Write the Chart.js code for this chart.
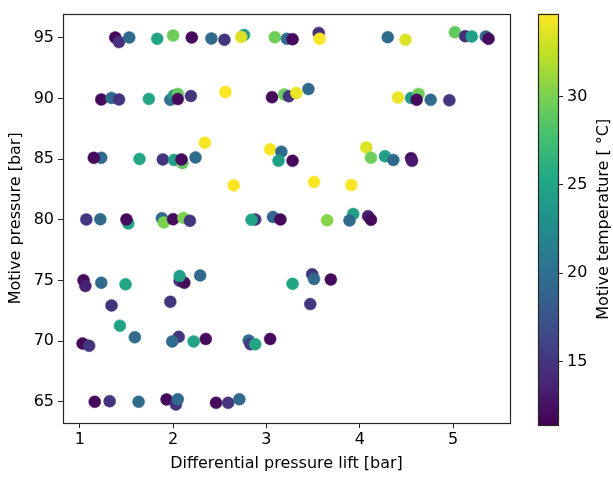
<!DOCTYPE html>
<html>
<head>
<meta charset="utf-8">
<script src="https://cdn.jsdelivr.net/npm/chart.js@4.4.1/dist/chart.umd.min.js"></script>
<style>
  html, body { margin: 0; padding: 0; background: #fff; }
  #main { position: absolute; left: 0; top: 0; }
  #cbar { position: absolute; left: 520px; top: 0; }
</style>
</head>
<body>
<canvas id="main" width="520" height="478"></canvas>
<canvas id="cbar" width="93" height="478"></canvas>
<script>
// Differential pressure lift [bar], one entry per test point
const liftBar = [
  1.38, 1.42, 1.53, 1.83, 2.00, 2.20, 2.41, 2.55, 2.76, 2.73, 3.09, 3.22, 3.28, 3.56, 3.57, 4.30, 4.49, 5.02, 5.13, 5.20, 5.35, 5.38,
  1.23, 1.34, 1.42, 1.74, 1.97, 2.01, 2.05, 2.05, 2.19, 2.56, 3.06, 3.19, 3.24, 3.32, 3.45, 4.41, 4.55, 4.63, 4.61, 4.76, 4.96,
  1.23, 1.15, 1.64, 1.89, 2.01, 2.10, 2.09, 2.24, 2.34, 2.65, 3.04, 3.16, 3.13, 3.28, 3.51, 3.91, 4.07, 4.12, 4.27, 4.36, 4.55, 4.56,
  1.07, 1.22, 1.52, 1.50, 1.88, 1.90, 2.00, 2.11, 2.18, 2.88, 2.84, 3.07, 3.15, 3.65, 3.93, 3.89, 4.09, 4.12,
  1.04, 1.06, 1.23, 1.49, 1.34, 1.97, 2.07, 2.12, 2.07, 2.29, 3.28, 3.49, 3.51, 3.69, 3.47,
  1.03, 1.10, 1.43, 1.59, 2.06, 1.99, 2.22, 2.35, 2.81, 2.83, 2.88, 3.04,
  1.16, 1.32, 1.63, 1.93, 2.03, 2.05, 2.46, 2.59, 2.71
];

// Motive pressure [bar]
const motivePressure = [
  95.03, 94.65, 95.03, 94.92, 95.19, 95.03, 94.95, 94.84, 95.24, 95.08, 95.06, 94.92, 94.89, 95.41, 94.92, 95.06, 94.84, 95.46, 95.14, 95.11, 95.11, 94.92,
  89.92, 90.05, 89.92, 89.97, 89.89, 90.25, 90.38, 89.95, 90.21, 90.54, 90.11, 90.33, 90.19, 90.46, 90.78, 90.08, 90.05, 90.38, 89.89, 89.89, 89.86,
  85.11, 85.11, 85.02, 84.98, 84.94, 84.68, 84.98, 85.14, 86.35, 82.84, 85.81, 85.62, 84.86, 84.86, 83.11, 82.87, 85.97, 85.11, 85.24, 84.94, 85.08, 84.86,
  80.03, 80.05, 79.70, 80.03, 80.13, 79.78, 80.05, 80.16, 79.92, 80.03, 80.00, 80.24, 80.03, 79.97, 80.48, 79.95, 80.30, 80.00,
  75.02, 74.54, 74.81, 74.68, 72.94, 73.24, 74.97, 74.81, 75.37, 75.41, 74.72, 75.51, 75.13, 75.08, 73.05,
  69.81, 69.62, 71.27, 70.32, 70.35, 69.97, 69.97, 70.18, 70.05, 69.75, 69.75, 70.18,
  65.00, 65.05, 65.00, 65.19, 64.78, 65.21, 64.91, 64.91, 65.21
];

// Motive temperature [°C]
const motiveTemp = [
  12, 14.5, 19.5, 25, 29.5, 12, 19.5, 15, 24, 33.5, 29.5, 19.5, 12, 14.5, 34.5, 19.5, 33.5, 29, 14.5, 24.5, 19.5, 12,
  12, 19.5, 15, 25, 20, 24, 29, 12, 15, 34.5, 12, 29.5, 15, 34, 19.5, 34, 24, 29.5, 12, 19.5, 15,
  19.5, 12, 25, 15, 24.5, 29, 12, 19.5, 34.5, 34.5, 34.5, 19.5, 24.5, 12, 34.5, 34.5, 33.5, 29.5, 24.5, 19.5, 12, 13,
  15, 19.5, 25, 12, 19.5, 30, 12, 30, 15, 15, 25, 19, 12, 30.5, 24.5, 19.5, 13.5, 12,
  12, 13.5, 19.5, 25, 15, 15, 14.5, 12, 24.5, 19.5, 25, 15, 19.5, 12, 15,
  12, 15, 25, 19.5, 15, 19.5, 25, 12, 19.5, 15, 25, 12,
  12, 15, 19.5, 12, 15, 19.5, 12, 15, 19.5
];

const xTicks = [1, 2, 3, 4, 5];
const yTicks = [65, 70, 75, 80, 85, 90, 95];
const tempTicks = [15, 20, 25, 30];
const tempRange = [11.4, 34.7];

// viridis colormap stops
const viridis = ['#440154', '#482475', '#414487', '#355f8d', '#2a788e', '#21918c',
                 '#22a884', '#44bf70', '#7ad151', '#bddf26', '#fde725'];

function hexRgb(h) {
  return [1, 3, 5].map(i => parseInt(h.slice(i, i + 2), 16));
}

function viridisColor(t) {
  t = Math.min(1, Math.max(0, t));
  const pos = t * (viridis.length - 1);
  const i = Math.min(viridis.length - 2, Math.floor(pos));
  const f = pos - i;
  const a = hexRgb(viridis[i]), b = hexRgb(viridis[i + 1]);
  const c = a.map((v, k) => Math.round(v + (b[k] - v) * f));
  return `rgb(${c[0]},${c[1]},${c[2]})`;
}

function tempColor(temp) {
  return viridisColor((temp - tempRange[0]) / (tempRange[1] - tempRange[0]));
}

Chart.defaults.font.family = "'DejaVu Sans', sans-serif";
Chart.defaults.font.size = 16;
Chart.defaults.color = '#000';

// box round the plotting area, like axis spines
const frame = {
  id: 'frame',
  afterDatasetsDraw(chart) {
    const { ctx, chartArea: a } = chart;
    ctx.save();
    ctx.strokeStyle = '#262626';
    ctx.lineWidth = 1.2;
    ctx.strokeRect(Math.round(a.left) + 0.5, Math.round(a.top) + 0.5,
                   Math.round(a.right - a.left), Math.round(a.bottom - a.top));
    ctx.restore();
  }
};

const tickGrid = {
  display: true,
  drawOnChartArea: false,
  drawTicks: true,
  tickLength: 5,
  color: '#262626',
  lineWidth: 1
};

const points = liftBar.map((x, i) => ({ x: x, y: motivePressure[i] }));
const pointColors = motiveTemp.map(tempColor);

new Chart(document.getElementById('main'), {
  type: 'scatter',
  data: {
    datasets: [{
      data: points,
      backgroundColor: pointColors,
      borderColor: pointColors,
      borderWidth: 0.5,
      pointRadius: 6,
      pointHoverRadius: 6
    }]
  },
  options: {
    responsive: false,
    animation: false,
    events: [],
    layout: { padding: { top: 7, right: 10, left: 0, bottom: 0 } },
    plugins: { legend: { display: false }, tooltip: { enabled: false } },
    scales: {
      x: {
        type: 'linear',
        min: 0.82,
        max: 5.61,
        afterBuildTicks: s => { s.ticks = xTicks.map(v => ({ value: v })); },
        afterFit: s => { s.height = 55; },
        ticks: { padding: 2, maxRotation: 0 },
        grid: tickGrid,
        border: { display: false },
        title: {
          display: true,
          text: 'Differential pressure lift [bar]',
          padding: { top: 4, bottom: 5 }
        }
      },
      y: {
        type: 'linear',
        min: 63.25,
        max: 97.0,
        afterBuildTicks: s => { s.ticks = yTicks.map(v => ({ value: v })); },
        afterFit: s => { s.width = 63; },
        ticks: { padding: 4 },
        grid: tickGrid,
        border: { display: false },
        title: {
          display: true,
          text: 'Motive pressure [bar]',
          padding: { top: 6, bottom: 4 }
        }
      }
    }
  },
  plugins: [frame]
});

// colour bar: a single floating bar spanning the temperature range
const cbarTitle = {
  id: 'cbarTitle',
  afterDraw(chart) {
    const { ctx, chartArea: a } = chart;
    ctx.save();
    ctx.translate(84, (a.top + a.bottom) / 2);
    ctx.rotate(-Math.PI / 2);
    ctx.textAlign = 'center';
    ctx.textBaseline = 'middle';
    ctx.fillStyle = '#000';
    ctx.font = "16px 'DejaVu Sans', sans-serif";
    ctx.fillText('Motive temperature [ °C]', 0, 0);
    ctx.restore();
  }
};

new Chart(document.getElementById('cbar'), {
  type: 'bar',
  data: {
    labels: ['T'],
    datasets: [{
      data: [tempRange],
      barPercentage: 1,
      categoryPercentage: 1,
      borderWidth: 0,
      backgroundColor: (c) => {
        const area = c.chart.chartArea;
        if (!area) return viridis[5];
        const g = c.chart.ctx.createLinearGradient(0, area.bottom, 0, area.top);
        viridis.forEach((col, i) => g.addColorStop(i / (viridis.length - 1), col));
        return g;
      }
    }]
  },
  options: {
    responsive: false,
    animation: false,
    events: [],
    layout: { padding: { top: 8, bottom: 53, left: 18, right: 0 } },
    plugins: { legend: { display: false }, tooltip: { enabled: false } },
    scales: {
      x: { display: false },
      y: {
        position: 'right',
        min: tempRange[0],
        max: tempRange[1],
        afterBuildTicks: s => { s.ticks = tempTicks.map(v => ({ value: v })); },
        afterFit: s => { s.width = 55; },
        ticks: { padding: 4 },
        grid: tickGrid,
        border: { display: false }
      }
    }
  },
  plugins: [frame, cbarTitle]
});
</script>
</body>
</html>
